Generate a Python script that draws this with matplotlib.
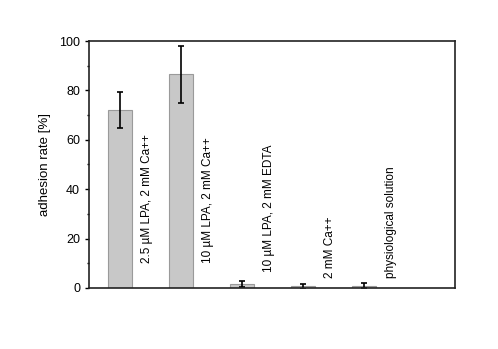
import matplotlib
matplotlib.use("Agg")
import matplotlib.pyplot as plt
from matplotlib.ticker import MultipleLocator

plt.rcParams['font.family'] = ['Liberation Sans', 'DejaVu Sans']

conditions = ["2.5 \u00b5M LPA, 2 mM Ca++",
              "10 \u00b5M LPA, 2 mM Ca++",
              "10 \u00b5M LPA, 2 mM EDTA",
              "2 mM Ca++",
              "physiological solution"]
adhesion = [72.0, 86.5, 1.5, 0.7, 0.8]
errors = [7.4, 11.6, 1.2, 1.0, 1.0]

fig = plt.figure(figsize=(4.98, 3.49), dpi=100)
ax = fig.add_axes([0.179, 0.175, 0.735, 0.7075])

x = list(range(1, len(adhesion) + 1))
ax.bar(x, adhesion, width=0.4, color='#c8c8c8', edgecolor='#9a9a9a', linewidth=0.8)
ax.errorbar(x, adhesion, yerr=errors, fmt='none', ecolor='black',
            elinewidth=1.2, capsize=2.5, capthick=1.2)

# labels written next to each bar, rotated
label_bottom = [10, 10, 6.5, 4, 4]
for xi, name, yb in zip(x, conditions, label_bottom):
    ax.text(xi + 0.44, yb, name, rotation=90, ha='center', va='bottom',
            fontsize=8.5)

ax.set_xlim(0.49, 6.49)
ax.set_ylim(0, 100)
ax.set_xticks([])
ax.yaxis.set_major_locator(MultipleLocator(20))
ax.yaxis.set_minor_locator(MultipleLocator(10))
ax.tick_params(axis='y', which='major', length=3, width=1, labelsize=9)
ax.tick_params(axis='y', which='minor', length=1.5, width=1)
ax.set_ylabel("adhesion rate [%]", fontsize=9.5, labelpad=6)
for s in ax.spines.values():
    s.set_linewidth(1.2)
    s.set_color('#222222')

fig.savefig("out.png", dpi=100)
